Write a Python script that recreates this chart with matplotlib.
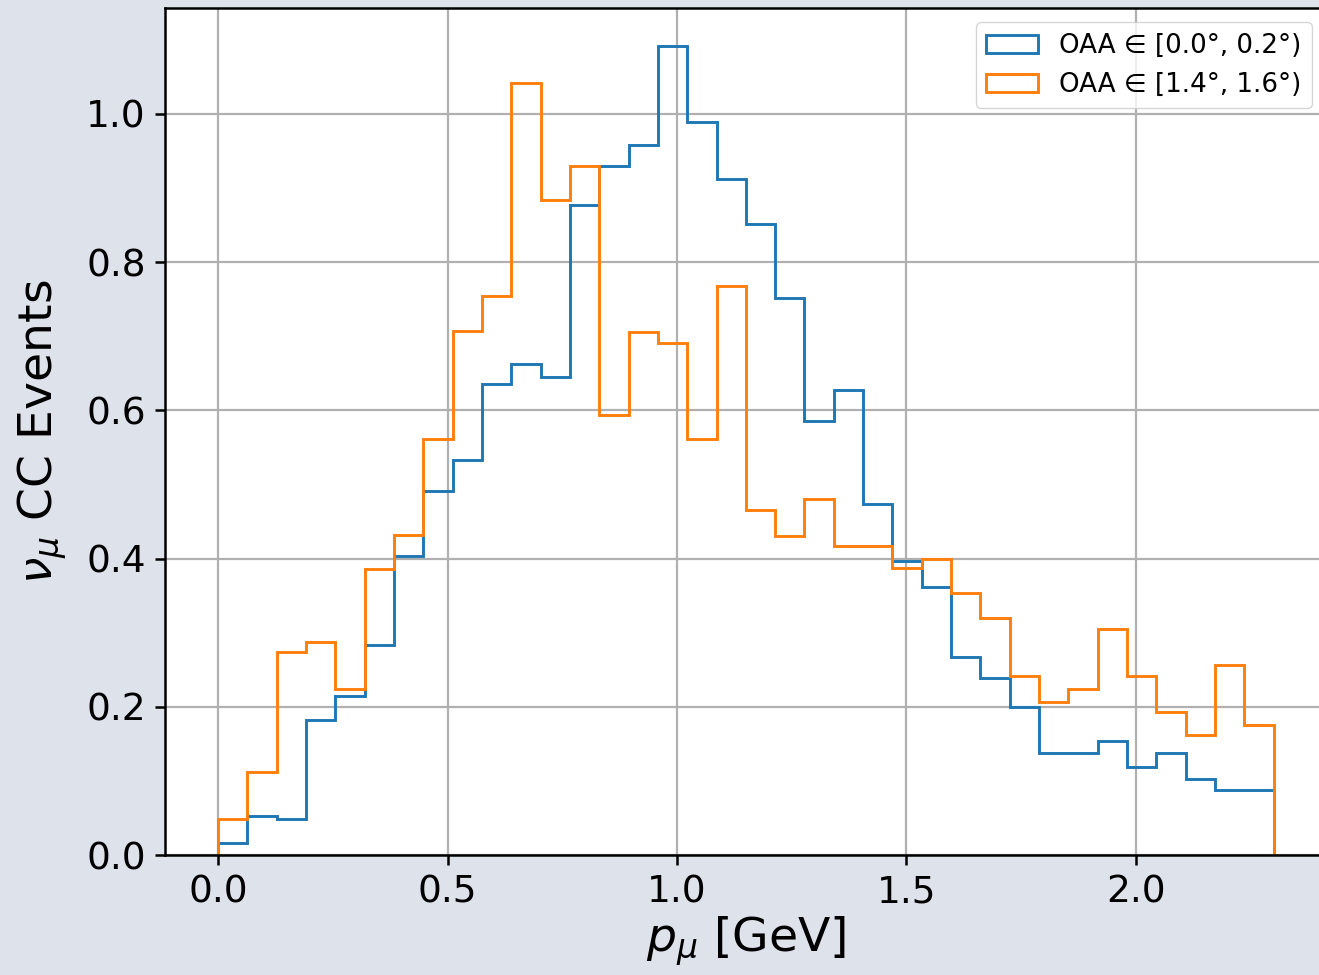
import numpy as np
import matplotlib
matplotlib.use("Agg")
import matplotlib.pyplot as plt

# Bin edges (GeV) and per-bin values
bin_edges = np.linspace(0.0, 2.3, 37)
blue_values = [0.016, 0.053, 0.049, 0.182, 0.215, 0.283, 0.404, 0.491, 0.533,
               0.636, 0.663, 0.645, 0.877, 0.930, 0.958, 1.092, 0.989, 0.912,
               0.852, 0.752, 0.586, 0.628, 0.474, 0.397, 0.362, 0.267, 0.239,
               0.200, 0.138, 0.138, 0.154, 0.119, 0.138, 0.103, 0.088, 0.088]
orange_values = [0.049, 0.112, 0.274, 0.287, 0.224, 0.386, 0.432, 0.561, 0.707,
                 0.754, 1.042, 0.884, 0.930, 0.594, 0.706, 0.691, 0.561, 0.768,
                 0.466, 0.431, 0.480, 0.417, 0.417, 0.387, 0.400, 0.354, 0.320,
                 0.242, 0.206, 0.224, 0.305, 0.242, 0.193, 0.162, 0.256, 0.175]
labels = ["OAA ∈ [0.0°, 0.2°)", "OAA ∈ [1.4°, 1.6°)"]
x_ticks = [0.0, 0.5, 1.0, 1.5, 2.0]
y_ticks = [0.0, 0.2, 0.4, 0.6, 0.8, 1.0]

W, H = 1319, 975
fig = plt.figure(figsize=(W / 100, H / 100), dpi=100, facecolor="#dee2eb")
x0, x1 = -0.115, 2.415
px_per = 459.0
left_px = 218 - 0.115 * px_per
width_px = (x1 - x0) * px_per
ax = fig.add_axes([left_px / W, (H - 855) / H, width_px / W, (855 - 8) / H])

centers = 0.5 * (bin_edges[:-1] + bin_edges[1:])
ax.hist(centers, bins=bin_edges, weights=blue_values, histtype="step",
        color="#1f77b4", lw=2.1, label=labels[0])
ax.hist(centers, bins=bin_edges, weights=orange_values, histtype="step",
        color="#ff7f0e", lw=2.1, label=labels[1])

ax.set_xlim(x0, x1)
ax.set_ylim(0, 1.143)
ax.set_xticks(x_ticks)
ax.set_yticks(y_ticks)
ax.grid(True, color="#b0b0b0", lw=1.6)
for s in ax.spines.values():
    s.set_linewidth(1.8)
ax.tick_params(labelsize=27, length=7, width=1.8, pad=7)
ax.set_xlabel(r"$p_\mu$ [GeV]", fontsize=34, labelpad=3)
ax.set_ylabel(r"$\nu_\mu$ CC Events", fontsize=34, labelpad=12)
ax.legend(loc="upper right", fontsize=18.8, borderaxespad=0.55, handlelength=2.0)

fig.savefig("out.png", dpi=100, facecolor=fig.get_facecolor())
